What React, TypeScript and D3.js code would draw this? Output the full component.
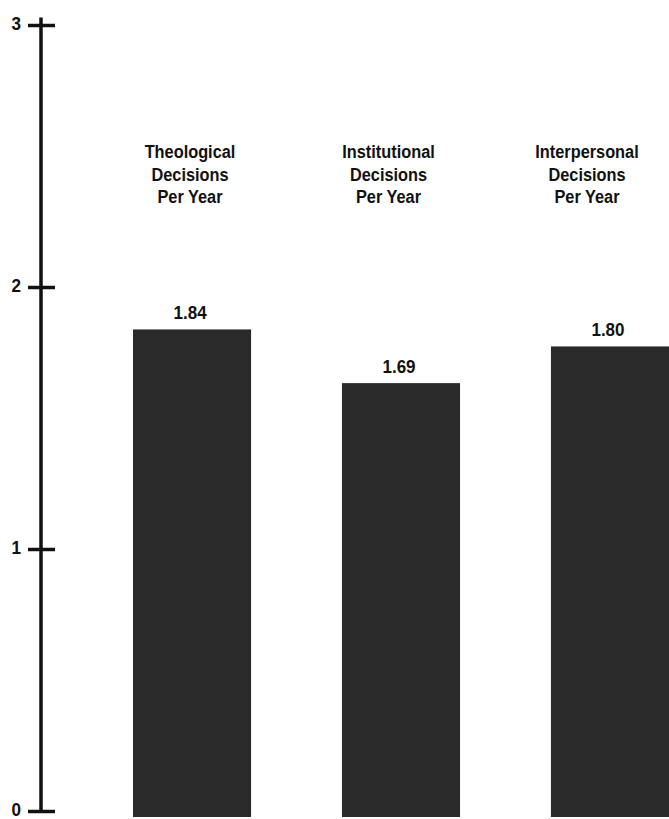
import * as d3 from "d3";
import * as React from "react";

const categories = ["Theological", "Institutional", "Interpersonal"];
// heights as drawn in the figure, and the numbers printed above them
const barValues = [1.84, 1.635, 1.775];
const printedLabels = ["1.84", "1.69", "1.80"];
const yTicks = [0, 1, 2, 3];

const width = 669;
const height = 819;
const axisX = 41;
const barFloor = 817;
const font = "'Liberation Sans', Arial, sans-serif";

// condensed bold text, the original uses a narrow grotesque
function Narrow(props: { x: number; y: number; size: number; squeeze: number; anchor?: string; children: React.ReactNode }) {
  const { x, y, size, squeeze, anchor, children } = props;
  return (
    <text transform={`translate(${x},${y}) scale(${squeeze},1)`} textAnchor={anchor || "middle"}
      fontFamily={font} fontWeight="bold" fontSize={size} fill="#111">
      {children}
    </text>
  );
}

export default function App() {
  const y = d3.scaleLinear().domain([0, 3]).range([811.5, 25.5]);
  const x = d3.scaleBand<string>()
    .domain(categories)
    .range([133, 669])
    .paddingInner(0.435)
    .paddingOuter(0);
  // headings sit a little left of the bar centres in the original
  const head = d3.scalePoint<string>().domain(categories).range([190, 587]);

  return (
    <svg width={width} height={height} style={{ position: "absolute", left: 0, top: 0, background: "#fff" }}>
      <g>
        <line x1={axisX} x2={axisX} y1={y(3) - 8} y2={y(0)} stroke="#111" strokeWidth={3.5} />
        {yTicks.map((t) => (
          <g key={"tick" + t}>
            <line x1={axisX - 13} x2={axisX + 14} y1={y(t)} y2={y(t)} stroke="#111" strokeWidth={3.5} />
            <Narrow x={21} y={y(t) + 4} size={19} squeeze={0.9} anchor="end">{t}</Narrow>
          </g>
        ))}
      </g>
      {categories.map((c, i) => (
        <g key={"bar" + c}>
          <rect x={x(c)} y={y(barValues[i])} width={x.bandwidth()} height={barFloor - y(barValues[i])} fill="#2a2a2a" />
          <Narrow x={x(c)! + x.bandwidth() / 2 - 2} y={y(barValues[i]) - 10} size={18.5} squeeze={0.92}>
            {printedLabels[i]}
          </Narrow>
          <Narrow x={head(c)!} y={158} size={19} squeeze={0.86}>{c}</Narrow>
          <Narrow x={head(c)!} y={180.5} size={19} squeeze={0.86}>Decisions</Narrow>
          <Narrow x={head(c)!} y={203} size={19} squeeze={0.86}>Per Year</Narrow>
        </g>
      ))}
    </svg>
  );
}
